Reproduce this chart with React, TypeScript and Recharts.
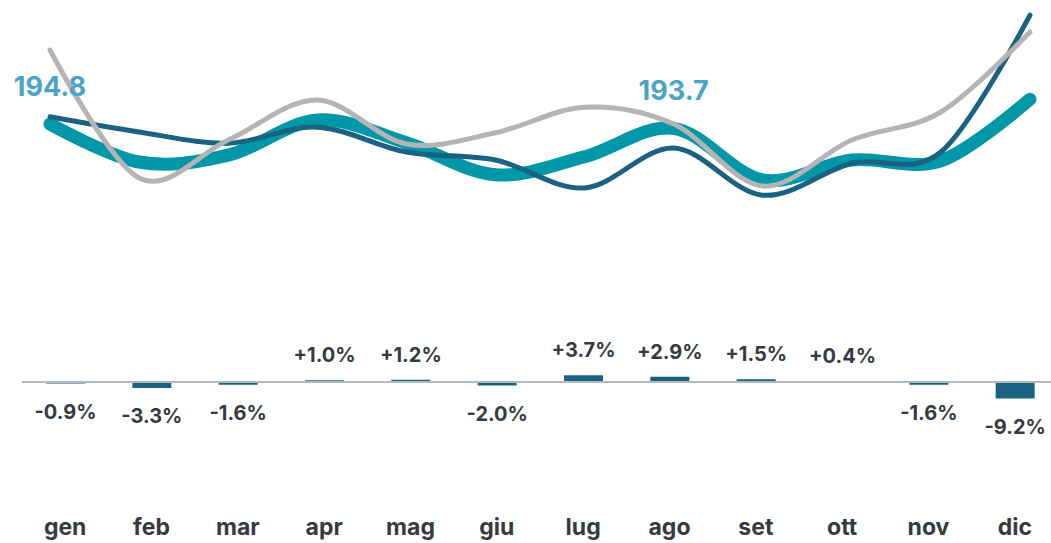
import React from 'react';
import {
  ComposedChart, Line, Bar, XAxis, YAxis, LabelList, ReferenceLine
} from 'recharts';

const months = ['gen', 'feb', 'mar', 'apr', 'mag', 'giu', 'lug', 'ago', 'set', 'ott', 'nov', 'dic'];
const currentYear = [194.8, 185.3, 187.0, 195.8, 190.1, 182.1, 186.6, 193.7, 180.8, 185.8, 185.6, 201.0];
const previousYear = [196.6, 192.8, 190.0, 194.0, 187.8, 185.8, 178.8, 188.8, 177.0, 185.0, 187.8, 222.0];
const twoYearsAgo = [213.3, 181.3, 190.8, 200.8, 189.8, 192.6, 199.0, 194.8, 179.3, 190.8, 197.8, 217.8];
const highlights = ['194.8', '', '', '', '', '', '', '193.7', '', '', '', ''];
const changePct = [-0.9, -3.3, -1.6, 1.0, 1.2, -2.0, 3.7, 2.9, 1.5, 0.4, -1.6, -9.2];

const FONT = 'Inter, "Liberation Sans", Arial, sans-serif';

// catmull-rom style smoothing, close to how office charts smooth lines
function smoothCurve(context: any) {
  const k = 1 / 6;
  let x0 = NaN, y0 = NaN, x1 = NaN, y1 = NaN, x2 = NaN, y2 = NaN, pt = 0;
  const seg = (x: number, y: number) => {
    context.bezierCurveTo(
      x1 + k * (x2 - x0), y1 + k * (y2 - y0),
      x2 + k * (x1 - x), y2 + k * (y1 - y),
      x2, y2
    );
  };
  return {
    areaStart() {},
    areaEnd() {},
    lineStart() {
      x0 = x1 = x2 = y0 = y1 = y2 = NaN;
      pt = 0;
    },
    lineEnd() {
      if (pt === 2) context.lineTo(x2, y2);
      else if (pt === 3) seg(x1, y1);
    },
    point(x: number, y: number) {
      x = +x; y = +y;
      if (pt === 0) { pt = 1; context.moveTo(x, y); }
      else if (pt === 1) { pt = 2; x1 = x; y1 = y; }
      else { pt = 3; seg(x, y); }
      x0 = x1; x1 = x2; x2 = x;
      y0 = y1; y1 = y2; y2 = y;
    },
  };
}

const data = months.map((m, i) => ({
  month: m,
  current: currentYear[i],
  previous: previousYear[i],
  older: twoYearsAgo[i],
  highlight: highlights[i],
  change: changePct[i],
}));

const fmtPct = (v: number) => (v > 0 ? '+' : '') + v.toFixed(1) + '%';

const BarValue = (props: any) => {
  const { x, y, width, height, value } = props;
  const top = Math.min(y, y + height);
  const bottom = Math.max(y, y + height);
  const cx = x + width / 2;
  const ty = value >= 0 ? top - 25 : bottom + 28;
  return (
    <text x={cx} y={ty} textAnchor="middle" dominantBaseline="central"
      fontFamily={FONT} fontWeight={700} fontSize={20} fill="#343a40">
      {fmtPct(value)}
    </text>
  );
};

const HighlightLabel = (props: any) => {
  const { x, y, value } = props;
  if (!value) return null;
  return (
    <text x={x} y={y - 38} textAnchor="middle" dominantBaseline="central"
      fontFamily={FONT} fontWeight={700} fontSize={27} fill="#4aa3c8">
      {value}
    </text>
  );
};

const MonthTick = (props: any) => {
  const { x, y, payload } = props;
  return (
    <text x={x} y={y} dy={26} textAnchor="middle" dominantBaseline="central"
      fontFamily={FONT} fontWeight={700} fontSize={23} fill="#343a40">
      {payload.value}
    </text>
  );
};

export default function App() {
  return (
    <div style={{ position: 'fixed', left: 0, top: 0, width: 1051, height: 543, overflow: 'hidden', background: '#fff' }}>
      <ComposedChart width={1070} height={543} data={data}
        margin={{ top: 0, right: 12, bottom: 0, left: 22 }}>
        <XAxis dataKey="month" xAxisId="bars" height={50} axisLine={false} tickLine={false}
          tick={<MonthTick />} interval={0} />
        <XAxis dataKey="month" xAxisId="lines" scale="point" padding={{ left: 28, right: 28 }} hide height={0} />
        <YAxis yAxisId="bars" domain={[-61.7, 212.2]} hide allowDataOverflow />
        <YAxis yAxisId="lines" domain={[102.55, 225.8]} hide allowDataOverflow />
        <ReferenceLine y={0} xAxisId="bars" yAxisId="bars" stroke="#b3b8bf" strokeWidth={2} />
        <Bar dataKey="change" xAxisId="bars" yAxisId="bars" fill="#1a6282" barSize={39} isAnimationActive={false}>
          <LabelList dataKey="change" content={<BarValue />} />
        </Bar>
        <Line dataKey="current" xAxisId="lines" yAxisId="lines" type={smoothCurve as any} stroke="#0097a9"
          strokeWidth={13} strokeLinecap="round" dot={false} activeDot={false} isAnimationActive={false}>
          <LabelList dataKey="highlight" content={<HighlightLabel />} />
        </Line>
        <Line dataKey="previous" xAxisId="lines" yAxisId="lines" type={smoothCurve as any} stroke="#1a6282"
          strokeWidth={5} strokeLinecap="round" dot={false} activeDot={false} isAnimationActive={false} />
        <Line dataKey="older" xAxisId="lines" yAxisId="lines" type={smoothCurve as any} stroke="#b4b4b4"
          strokeWidth={5} strokeLinecap="round" dot={false} activeDot={false} isAnimationActive={false} />
      </ComposedChart>
    </div>
  );
}
